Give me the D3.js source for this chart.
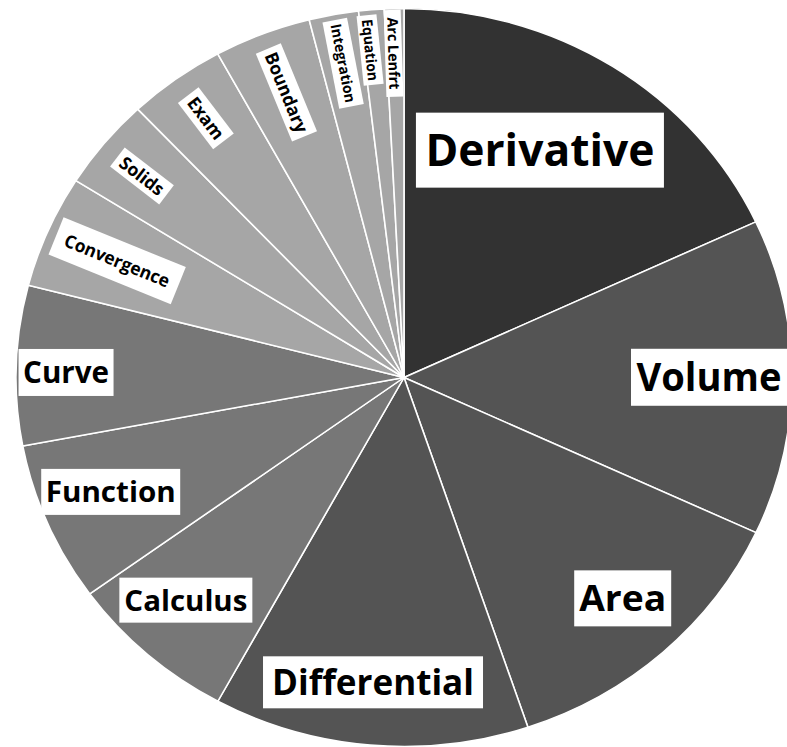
<!DOCTYPE html>
<html>
<head>
<meta charset="utf-8">
<script src="https://cdn.jsdelivr.net/npm/d3@7"></script>
<style>
  body { margin: 0; background: #fff; }
  svg { display: block; }
  .lbl text { font-family: "Open Sans", sans-serif; font-weight: 700; fill: #000; }
</style>
</head>
<body>
<div id="chart"></div>
<script>
// pie of calculus topics, clockwise from 12 o'clock
// shares (%) read off the picture by slice angle

const topics = ["Derivative", "Volume", "Area", "Differential", "Calculus", "Function", "Curve",
                "Convergence", "Solids", "Exam", "Boundary", "Integration", "Equation", "Arc Lenfrt"];
const shares = [18.07, 13.84, 12.92, 13.14, 7.06, 7.01, 6.99, 4.94, 4.0, 4.07, 4.04, 2.06, 1.06, 0.81];
// grey tier of each topic (0 = darkest)
const tiers  = [0, 1, 1, 1, 2, 2, 2, 3, 3, 3, 3, 3, 3, 3];

const greys = ["#323232", "#545454", "#777777", "#a6a6a6"];

// label placement: radius, angle nudge (deg), font size, text length, box size
const labelLayout = {
  "Derivative":   {r: 275, da: -2.9, fs: 44.8, tl: 229, bw: 248, bh: 75},
  "Volume":       {r: 305, da: 0,    fs: 38.5, tl: 145, bw: 156, bh: 57},
  "Area":         {r: 319, da: -1.4, fs: 36.4, tl: 87,  bw: 97,  bh: 56},
  "Differential": {r: 322, da: 0.5,  fs: 35,   tl: 202, bw: 220, bh: 52},
  "Calculus":     {r: 320, da: 1.6,  fs: 29.4, tl: 123, bw: 133, bh: 45},
  "Function":     {r: 317, da: 1.0,  fs: 29.4, tl: 130, bw: 139, bh: 46},
  "Curve":        {r: 338, da: -1.0, fs: 30,   tl: 86,  bw: 95,  bh: 47},
  "Convergence":  {r: 312, da: -0.2, fs: 18,   tl: 112, bw: 132, bh: 40, radial: true},
  "Solids":       {r: 337, da: -0.5, fs: 18,   tl: 51,  bw: 62,  bh: 24, radial: true},
  "Exam":         {r: 337, da: 0,    fs: 18,   tl: 48,  bw: 58,  bh: 26, radial: true},
  "Boundary":     {r: 322, da: 0,    fs: 18,   tl: 85,  bw: 95,  bh: 27, radial: true},
  "Integration":  {r: 336, da: 0,    fs: 14.6, tl: 80,  bw: 88,  bh: 25, radial: true},
  "Equation":     {r: 346, da: -0.8, fs: 14.6, tl: 62,  bw: 70,  bh: 20, radial: true},
  "Arc Lenfrt":   {r: 341, da: -0.3, fs: 14.6, tl: 72,  bw: 87,  bh: 17, radial: true}
};

const width = 787, height = 747;
const cx = 404, cy = 377.5, radius = 388, ky = 369 / 388; // picture is a little squashed vertically

const data = topics.map((t, i) => ({topic: t, value: shares[i], tier: tiers[i]}));

const svg = d3.select("#chart")
  .append("svg")
  .attr("width", width)
  .attr("height", height);

svg.append("rect").attr("width", width).attr("height", height).attr("fill", "#fff");

const pie = d3.pie().sort(null).value(d => d.value);
const arcs = pie(data);
const arc = d3.arc().innerRadius(0).outerRadius(radius);

const g = svg.append("g")
  .attr("transform", `translate(${cx},${cy}) scale(1,${ky})`);

g.selectAll("path")
  .data(arcs)
  .enter()
  .append("path")
  .attr("d", arc)
  .attr("fill", d => greys[d.data.tier])
  .attr("stroke", "#fff")
  .attr("stroke-width", 1.6)
  .attr("stroke-linejoin", "round");

// labels in a plain (unsquashed) group so the text is not sheared
const lg = svg.append("g").attr("transform", `translate(${cx},${cy})`);

const labels = lg.selectAll("g.lbl")
  .data(arcs)
  .enter()
  .append("g")
  .attr("class", "lbl")
  .attr("transform", d => {
    const L = labelLayout[d.data.topic];
    const a = (d.startAngle + d.endAngle) / 2 + L.da * Math.PI / 180;
    const x = L.r * Math.sin(a), y = -L.r * Math.cos(a) * ky;
    // small slices: text runs along the radius, reading inwards
    const rot = L.radial ? Math.atan2(Math.cos(a) * ky, -Math.sin(a)) * 180 / Math.PI : 0;
    return `translate(${x},${y}) rotate(${rot})`;
  });

labels.append("rect")
  .attr("x", d => -labelLayout[d.data.topic].bw / 2)
  .attr("y", d => -labelLayout[d.data.topic].bh / 2)
  .attr("width", d => labelLayout[d.data.topic].bw)
  .attr("height", d => labelLayout[d.data.topic].bh)
  .attr("fill", "#fff");

labels.append("text")
  .attr("text-anchor", "middle")
  .attr("y", d => 0.357 * labelLayout[d.data.topic].fs)
  .attr("font-size", d => labelLayout[d.data.topic].fs)
  .attr("textLength", d => labelLayout[d.data.topic].tl)
  .attr("lengthAdjust", "spacingAndGlyphs")
  .text(d => d.data.topic);
</script>
</body>
</html>
